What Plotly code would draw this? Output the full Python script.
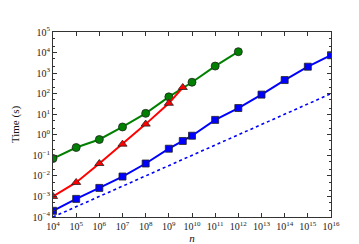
import plotly.graph_objects as go

# Data
n_green = [1e4, 1e5, 1e6, 1e7, 1e8, 1e9, 1e10, 1e11, 1e12]
t_green = [0.07, 0.24, 0.59, 2.4, 11, 70, 360, 2200, 11000]

n_red = [1e4, 1e5, 1e6, 1e7, 1e8, 1e9, 4e9]
t_red = [1e-3, 0.0048, 0.04, 0.35, 3.3, 34, 200]

n_blue = [1e4, 1e5, 1e6, 1e7, 1e8, 1e9, 4e9, 1e10, 1e11, 1e12, 1e13, 1e14, 1e15, 1e16]
t_blue = [2e-4, 7.6e-4, 2.6e-3, 9.3e-3, 0.04, 0.21, 0.5, 0.9, 5.3, 20, 90, 460, 2050, 7400]

n_ref = [1e4, 1e16]
t_ref = [1e-4, 1e2]

x_exponents = list(range(4, 17))
y_exponents = list(range(-4, 6))
x_tickvals = [10.0 ** k for k in x_exponents]
y_tickvals = [10.0 ** k for k in y_exponents]
x_ticktext = ["10<sup>%d</sup>" % k for k in x_exponents]
y_ticktext = ["10<sup>%s</sup>" % (str(k) if k >= 0 else "\u2212" + str(-k)) for k in y_exponents]

FONT = "Liberation Serif"
edge = dict(color="#222222", width=0.8)

fig = go.Figure()
fig.add_trace(go.Scatter(x=n_ref, y=t_ref, mode="lines",
                         line=dict(color="#0000FF", width=1.6, dash="dot"), showlegend=False))
fig.add_trace(go.Scatter(x=n_blue, y=t_blue, mode="lines+markers",
                         line=dict(color="#0000FF", width=2),
                         marker=dict(symbol="square", size=7, color="#0000FF", line=edge),
                         showlegend=False))
fig.add_trace(go.Scatter(x=n_green, y=t_green, mode="lines+markers",
                         line=dict(color="#008000", width=2),
                         marker=dict(symbol="circle", size=8, color="#008000", line=edge),
                         showlegend=False))
fig.add_trace(go.Scatter(x=n_red, y=t_red, mode="lines+markers",
                         line=dict(color="#FF0000", width=2),
                         marker=dict(symbol="triangle-up", size=8, color="#FF0000", line=edge),
                         showlegend=False))

axis_common = dict(
    type="log", showgrid=False, zeroline=False,
    showline=True, linecolor="#333333", linewidth=1, mirror="ticks",
    ticks="inside", ticklen=4, tickcolor="#333333", tickwidth=1,
    tickfont=dict(family=FONT, size=10, color="#222222"),
)

fig.update_xaxes(range=[4, 16], tickvals=x_tickvals, ticktext=x_ticktext, **axis_common,
                 automargin=True,
                 title=dict(text="<i>n</i>", font=dict(family=FONT, size=11, color="#111111"),
                            standoff=0))
fig.update_yaxes(range=[-4, 5], tickvals=y_tickvals, ticktext=y_ticktext, **axis_common,
                 automargin=False,
                 minor=dict(ticks="inside", ticklen=2, tickcolor="#333333", showgrid=False),
                 title=dict(text="Time (s)", font=dict(family=FONT, size=11, color="#111111"),
                            standoff=10))

fig.update_layout(
    width=359, height=244,
    margin=dict(l=45, r=36, t=24, b=25),
    paper_bgcolor="white", plot_bgcolor="white",
    font=dict(family=FONT),
)

fig.write_html("out.html")
